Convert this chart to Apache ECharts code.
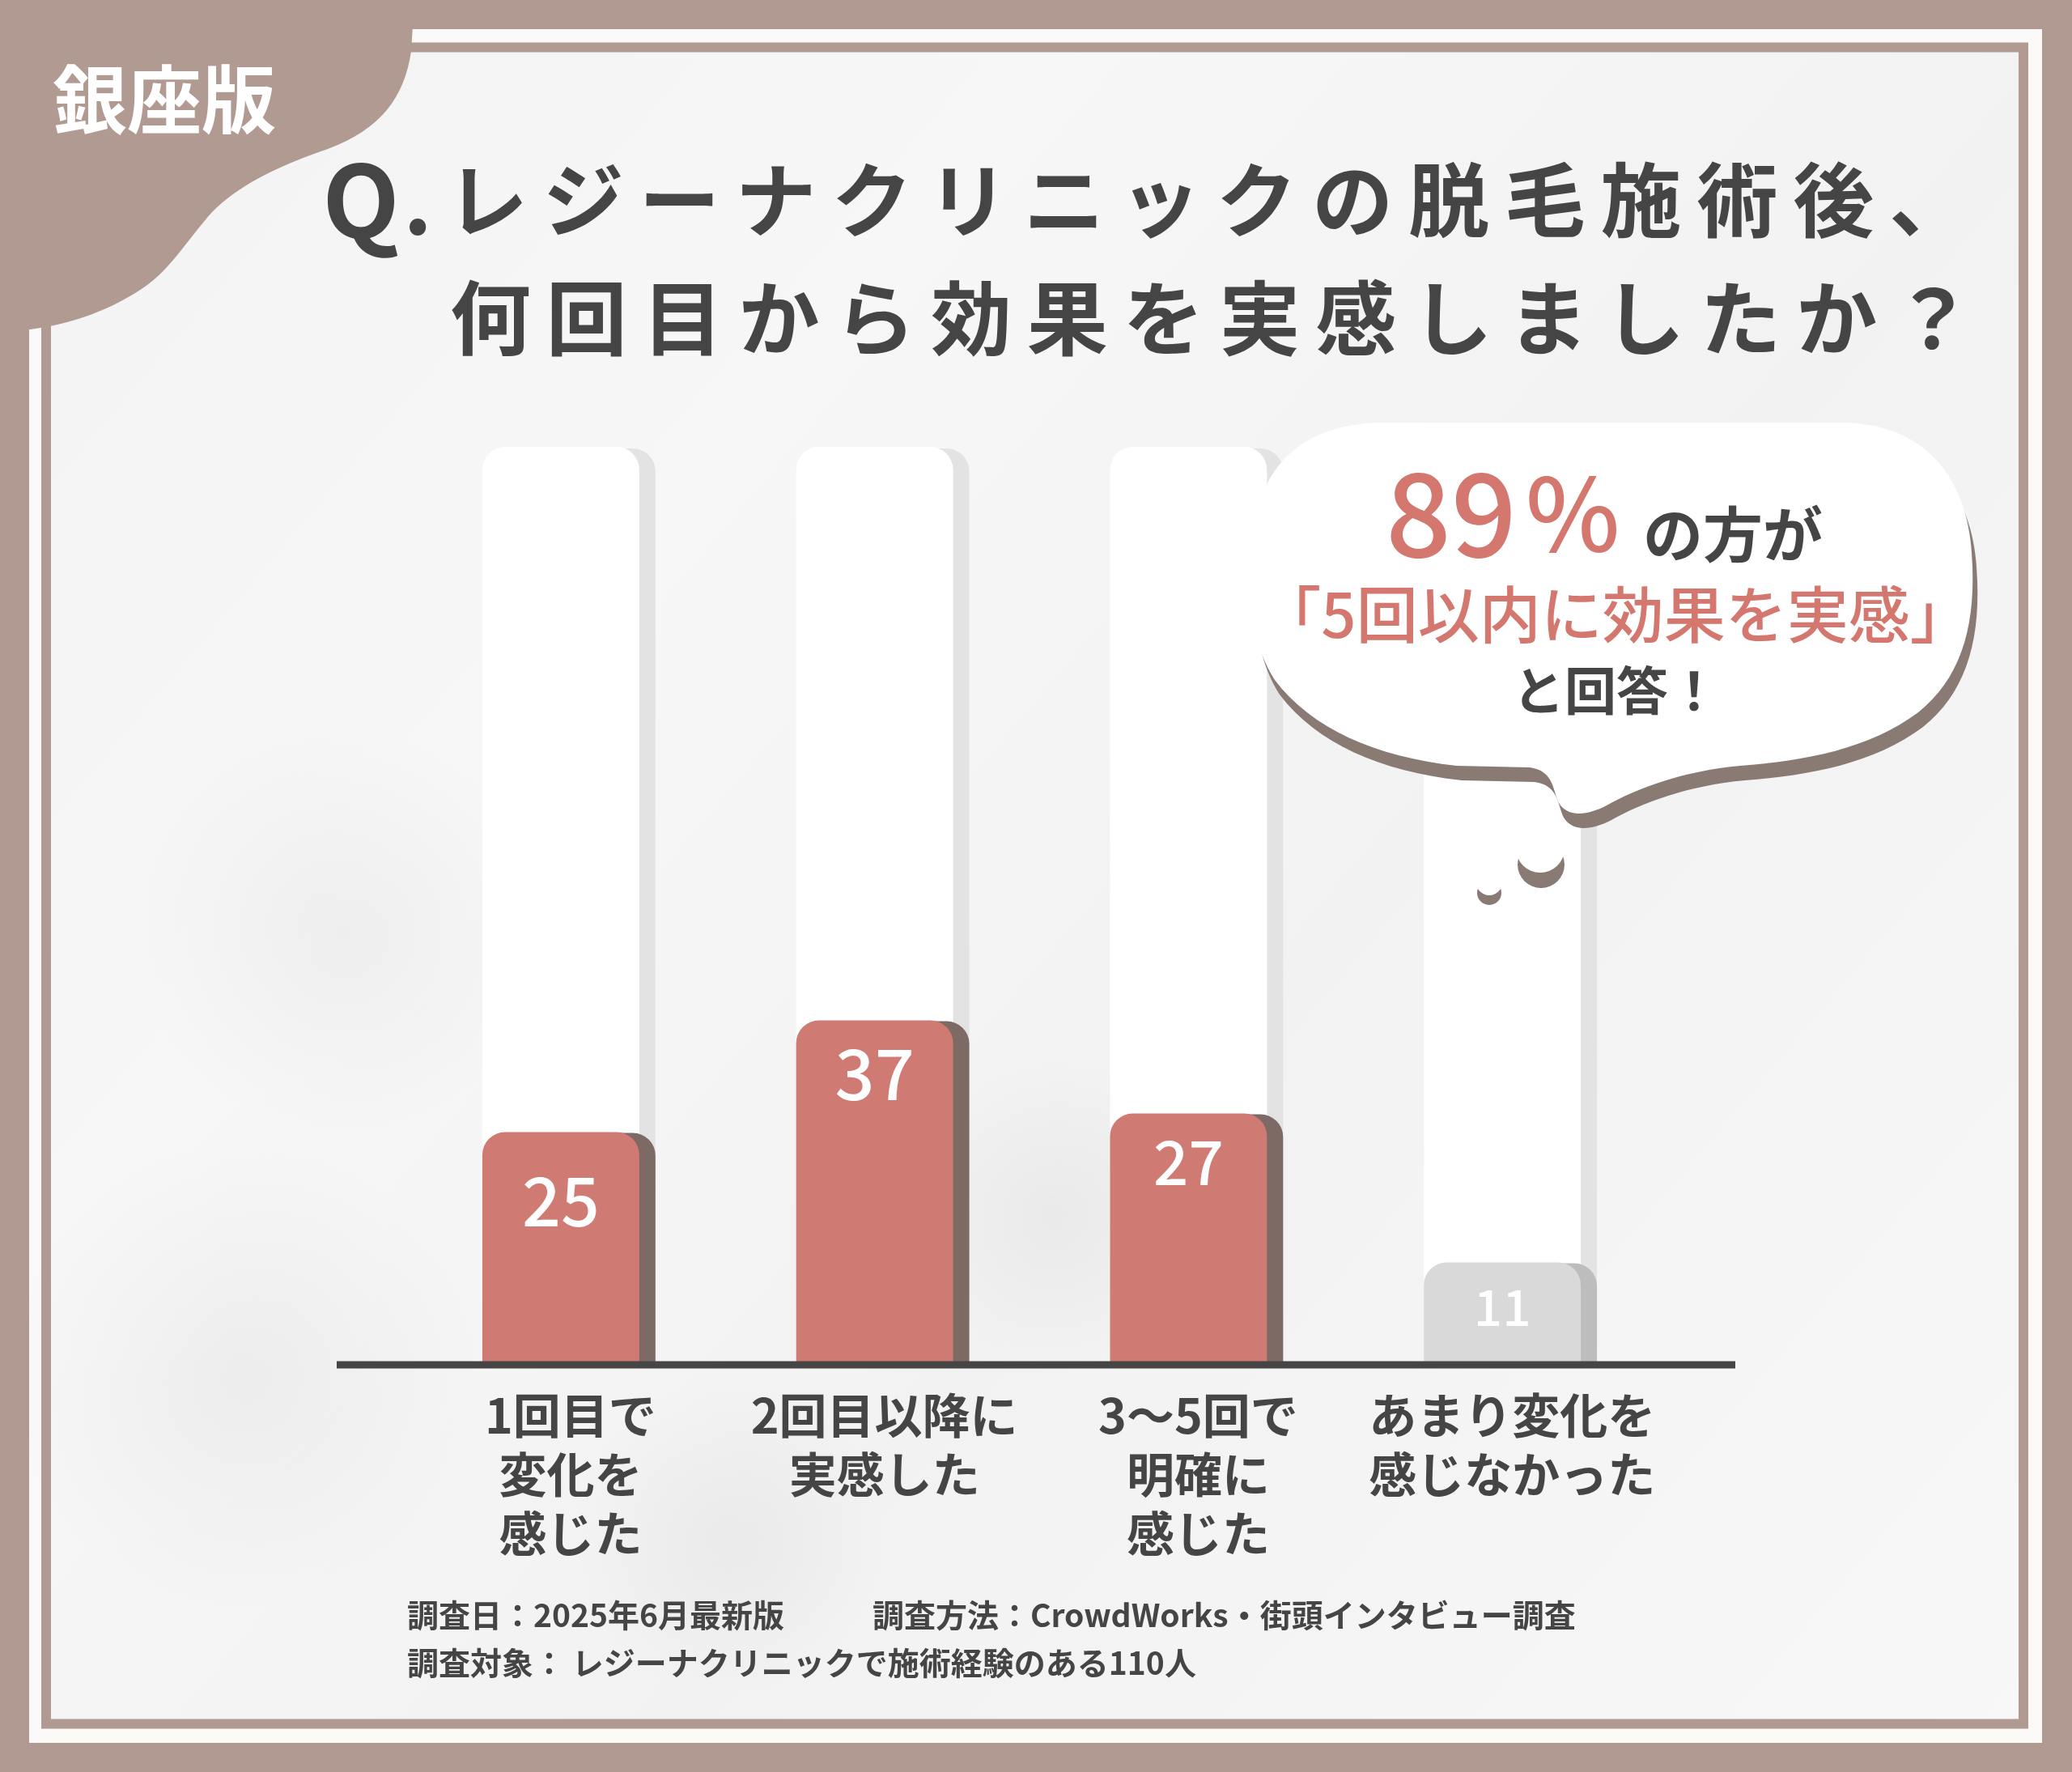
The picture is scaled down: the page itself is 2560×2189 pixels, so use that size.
<!DOCTYPE html>
<html><head><meta charset="utf-8">
<script src="https://cdn.jsdelivr.net/npm/echarts@6/dist/echarts.min.js"></script>
<style>html,body{margin:0;padding:0;background:#b09a91;}#c{width:2560px;height:2189px;}</style>
</head><body><div id="c"></div>
<script>
// ---- data ----
const CATEGORIES = ['1回目で\n変化を\n感じた', '2回目以降に\n実感した', '3〜5回で\n明確に\n感じた', 'あまり変化を\n感じなかった'];
const VALUES = [25, 37, 27, 11];
const Y_MAX = 100;
const BG_LEVEL = 98.6;
const TITLE_LINE1 = 'レジーナクリニックの脱毛施術後、';
const TITLE_LINE2 = '何回目から効果を実感しましたか？';
const BADGE = '銀座版';
const CALLOUT_NUM = '89';
const CALLOUT_PCT = '%';
const CALLOUT_TAIL = 'の方が';
const CALLOUT_MID = '「5回以内に効果を実感」';
const CALLOUT_END = 'と回答！';
const NOTE1 = '調査日：2025年6月最新版';
const NOTE2 = '調査方法：CrowdWorks・街頭インタビュー調査';
const NOTE3 = '調査対象： レジーナクリニックで施術経験のある110人';

// ---- styles ----
const FONT = '"Noto Sans CJK JP","Noto Sans",sans-serif';
const BAR_FILL = ['#cf7b74', '#cf7b74', '#cf7b74', '#d9d9d9'];
const BAR_SHADE = ['#7e6a64', '#7e6a64', '#7e6a64', '#bdbdbd'];
const LABEL_SIZE = [84, 86, 76, 62];
const LABEL_DY = [85, 66, 60, 55];
const DARK = '#454545';
const PINK = '#d3776f';
const BROWN = '#b09a91';

const BLOB_PATH = 'M 0 0 L 512 0 L 508 63 C 500 120 470 160 405 184 C 335 208 292 232 262 262 C 232 296 212 330 182 352 C 140 382 90 400 37 407 L 0 410 Z';
const BUBBLE_PATH = 'M 1545 700 C 1545 600 1585 528 1700 522 L 2280 522 C 2395 526 2436 610 2437 700 ' +
  'C 2440 780 2420 840 2370 880 C 2310 925 2230 940 2150 946 C 2080 952 2020 975 1985 995 ' +
  'C 1960 1008 1935 1010 1925 990 C 1918 972 1918 952 1890 948 L 1800 946 ' +
  'C 1700 935 1620 900 1575 840 C 1550 800 1545 760 1545 700 Z';
echarts.graphic.registerShape('blobShape', echarts.graphic.extendPath(BLOB_PATH, {}));
echarts.graphic.registerShape('bubbleShape', echarts.graphic.extendPath(BUBBLE_PATH, {}));

const chart = echarts.init(document.getElementById('c'), null, {renderer: 'canvas'});

function txt(text, x, y, size, fill, opts) {
  opts = opts || {};
  return {type: 'text', x: x, y: y, z: opts.z || 20, silent: true,
    style: {text: text, fill: fill, fontSize: size, fontFamily: FONT,
      fontWeight: opts.weight || 'bold', align: opts.align || 'center',
      verticalAlign: opts.va || 'middle'}};
}

const graphics = [];
// frame
graphics.push({type: 'rect', z: -10, silent: true, shape: {x: 36, y: 36, width: 2487, height: 2117}, style: {fill: '#faf9f8'}});
graphics.push({type: 'rect', z: -9, silent: true, shape: {x: 63, y: 64, width: 2433, height: 2061},
  style: {fill: new echarts.graphic.LinearGradient(0, 0, 1, 1, [
    {offset: 0, color: '#f3f3f3'}, {offset: 0.3, color: '#f7f7f7'},
    {offset: 0.6, color: '#f2f2f2'}, {offset: 1, color: '#f8f8f8'}])}});
// soft leaf-like shading
[[420, 1150, 260, 520, -35], [300, 1700, 300, 420, -30], [900, 1900, 380, 200, -20], [1300, 1500, 200, 420, -25]].forEach(e => {
  graphics.push({type: 'ellipse', z: -9, silent: true, x: e[0], y: e[1], rotation: e[4] * Math.PI / 180,
    shape: {cx: 0, cy: 0, rx: e[2], ry: e[3]},
    style: {fill: new echarts.graphic.RadialGradient(0.5, 0.5, 0.5, [
      {offset: 0, color: 'rgba(0,0,0,0.035)'}, {offset: 1, color: 'rgba(0,0,0,0)'}])}});
});
graphics.push({type: 'rect', z: -8, silent: true, shape: {x: 57, y: 58.5, width: 2443, height: 2071},
  style: {fill: null, stroke: BROWN, lineWidth: 12}});
// corner blob
graphics.push({type: 'blobShape', z: -7, silent: true, style: {fill: BROWN}});
graphics.push(txt(BADGE, 203, 123, 92, '#ffffff', {z: -6}));

// title
graphics.push(txt('Q', 446, 247, 124, DARK));
graphics.push(txt('.', 516, 247, 110, DARK));
TITLE_LINE1.split('').forEach((ch, i) => graphics.push(txt(ch, 602 + i * 118.8, 247, 100, DARK)));
TITLE_LINE2.split('').forEach((ch, i) => graphics.push(txt(ch, 606 + i * 118.8, 393, 100, DARK)));

// axis baseline
graphics.push({type: 'line', z: 5, silent: true, shape: {x1: 416, y1: 1686, x2: 2144, y2: 1686},
  style: {stroke: DARK, lineWidth: 9}});

// speech bubble
graphics.push({type: 'bubbleShape', z: 30, silent: true, x: 6, y: 18, style: {fill: '#8a7a74'}});
graphics.push({type: 'bubbleShape', z: 31, silent: true, style: {fill: '#ffffff'}});
graphics.push({type: 'circle', z: 30, silent: true, shape: {cx: 1904, cy: 1068, r: 29}, style: {fill: '#8a7a74'}});
graphics.push({type: 'circle', z: 31, silent: true, shape: {cx: 1903, cy: 1048, r: 30}, style: {fill: '#ffffff'}});
graphics.push({type: 'circle', z: 30, silent: true, shape: {cx: 1840, cy: 1103, r: 15}, style: {fill: '#8a7a74'}});
graphics.push({type: 'circle', z: 31, silent: true, shape: {cx: 1840, cy: 1090, r: 16}, style: {fill: '#ffffff'}});
graphics.push(txt(CALLOUT_NUM, 1712, 634, 142, PINK, {z: 40, align: 'left', weight: 500}));
graphics.push(txt(CALLOUT_PCT, 1885, 634, 124, PINK, {z: 40, align: 'left', weight: 500}));
graphics.push(txt(CALLOUT_TAIL, 2141, 660, 74, DARK, {z: 40}));
graphics.push(txt(CALLOUT_MID, 1996, 759, 76, PINK, {z: 40, weight: 500}));
graphics.push(txt(CALLOUT_END, 1997, 853, 64, DARK, {z: 40}));

// notes
graphics.push(txt(NOTE1, 503, 1995, 39, DARK, {align: 'left'}));
graphics.push(txt(NOTE2, 1078, 1995, 39, DARK, {align: 'left'}));
graphics.push(txt(NOTE3, 503, 2054, 39, DARK, {align: 'left'}));

function renderItem(params, api) {
  const i = api.value(0);
  const v = api.value(1);
  const top = api.coord([i, v]);
  const base = api.coord([i, 0]);
  const full = api.coord([i, BG_LEVEL]);
  const band = api.size([1, 0])[0];
  const w = band * 0.5;
  const x0 = top[0] - w / 2;
  const R = 28, OFF = 20;
  return {type: 'group', children: [
    {type: 'rect', shape: {x: x0 + OFF, y: full[1] + 2, width: w, height: base[1] - full[1] - 2, r: [R, R, 0, 0]}, style: {fill: '#e3e3e3'}},
    {type: 'rect', shape: {x: x0, y: full[1], width: w, height: base[1] - full[1], r: [R, R, 0, 0]}, style: {fill: '#ffffff'}},
    {type: 'rect', shape: {x: x0 + OFF, y: top[1] + 1, width: w, height: base[1] - top[1] - 1, r: [R, R, 0, 0]}, style: {fill: BAR_SHADE[i]}},
    {type: 'rect', shape: {x: x0, y: top[1], width: w, height: base[1] - top[1], r: [R, R, 0, 0]}, style: {fill: BAR_FILL[i]}},
    {type: 'text', x: top[0], y: top[1] + LABEL_DY[i],
      style: {text: String(v), fill: '#ffffff', fontSize: LABEL_SIZE[i], fontFamily: FONT, fontWeight: 500,
        align: 'center', verticalAlign: 'middle'}}
  ]};
}

chart.setOption({
  backgroundColor: BROWN,
  animation: false,
  grid: {left: 499, width: 1551, top: 536, bottom: 2189 - 1686},
  xAxis: {type: 'category', data: CATEGORIES,
    axisLine: {show: false}, axisTick: {show: false},
    axisLabel: {interval: 0, margin: 26, color: DARK, fontSize: 59, lineHeight: 73,
      fontWeight: 'bold', fontFamily: FONT, padding: [0, 0, 0, 24]}},
  yAxis: {type: 'value', min: 0, max: Y_MAX, show: false, splitLine: {show: false}},
  series: [{type: 'custom', renderItem: renderItem, clip: false,
    data: VALUES.map((v, i) => [i, v]), encode: {x: 0, y: 1}}],
  graphic: {elements: graphics}
});
</script></body></html>
